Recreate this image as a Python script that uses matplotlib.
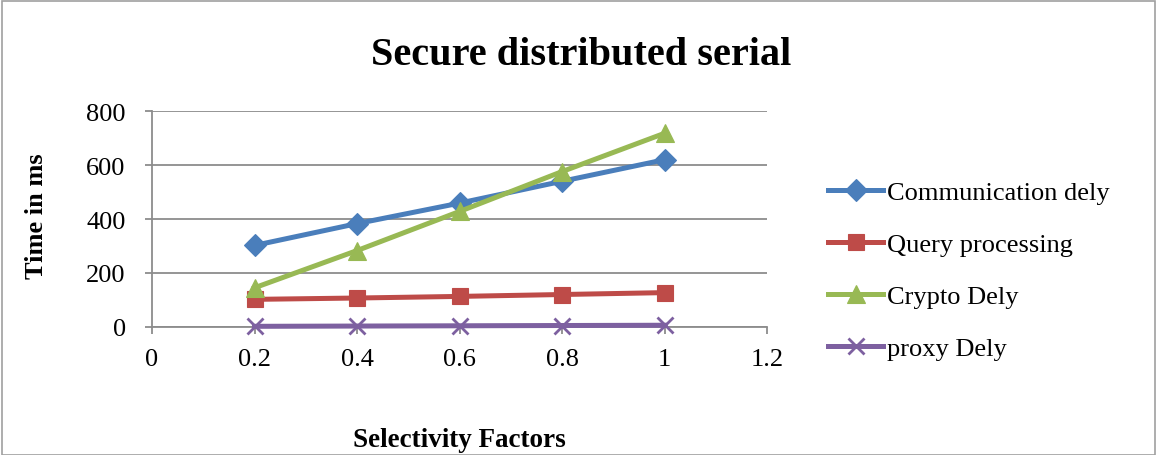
import matplotlib
matplotlib.use("Agg")
import matplotlib.pyplot as plt
from matplotlib.patches import Rectangle

# values
selectivity = [0.2, 0.4, 0.6, 0.8, 1.0]
communication_dely = [302, 383, 459, 540, 620]
query_processing = [102, 107, 113, 120, 127]
crypto_dely = [145, 283, 428, 576, 718]
proxy_dely = [2, 3, 4, 5, 6]

x_ticks = [0, 0.2, 0.4, 0.6, 0.8, 1, 1.2]
x_tick_labels = ["0", "0.2", "0.4", "0.6", "0.8", "1", "1.2"]
y_ticks = [0, 200, 400, 600, 800]

series = [
    ("Communication dely", communication_dely, "#4a7ebb", "D", 11),
    ("Query processing", query_processing, "#be4b48", "s", 12),
    ("Crypto Dely", crypto_dely, "#98b954", "^", 13),
    ("proxy Dely", proxy_dely, "#7d60a0", "x", 12),
]

plt.rcParams["font.family"] = ["Liberation Serif", "DejaVu Serif"]

fig = plt.figure(figsize=(11.57, 4.56), dpi=100)
fig.patches.append(Rectangle((0.0015, 0.0), 0.997, 0.996, transform=fig.transFigure,
                             fill=False, edgecolor="#a0a0a0", linewidth=1.2))
ax = fig.add_axes([0.1314, 0.281, 0.5316, 0.473])

for name, values, color, marker, size in series:
    ax.plot(selectivity, values, color=color, linewidth=3.6, marker=marker,
            markersize=size, markeredgewidth=2 if marker == "x" else 0.8,
            markeredgecolor=color, label=name, clip_on=False, zorder=3)

ax.set_xlim(0, 1.2)
ax.set_ylim(0, 800)
ax.set_xticks(x_ticks)
ax.set_xticklabels(x_tick_labels)
ax.set_yticks(y_ticks)
ax.grid(axis="y", color="#8c8c8c", linewidth=1.3)
ax.set_axisbelow(True)
for side in ["top", "right"]:
    ax.spines[side].set_visible(False)
for side in ["left", "bottom"]:
    ax.spines[side].set_color("#8c8c8c")
    ax.spines[side].set_linewidth(1.3)
ax.tick_params(axis="both", colors="#8c8c8c", labelcolor="black", labelsize=19,
               length=5, width=1.3, direction="out")
ax.tick_params(axis="x", pad=10)
ax.tick_params(axis="y", pad=14)

fig.text(0.502, 0.857, "Secure distributed serial", fontsize=29, fontweight="bold",
         ha="center", va="baseline")

ax.set_ylabel("Time in ms", fontsize=19, fontweight="bold")
ax.yaxis.set_label_coords(-0.169, 0.519)
ax.set_xlabel("Selectivity Factors", fontsize=19.5, fontweight="bold", va="baseline")
ax.xaxis.set_label_coords(0.5, -0.552)

ax.legend(loc="center left", bbox_to_anchor=(1.061, 0.262), frameon=False, fontsize=19,
          handlelength=2.08, handletextpad=0.15, labelspacing=1.08, borderpad=0.4)

fig.savefig("out.png", dpi=100)
